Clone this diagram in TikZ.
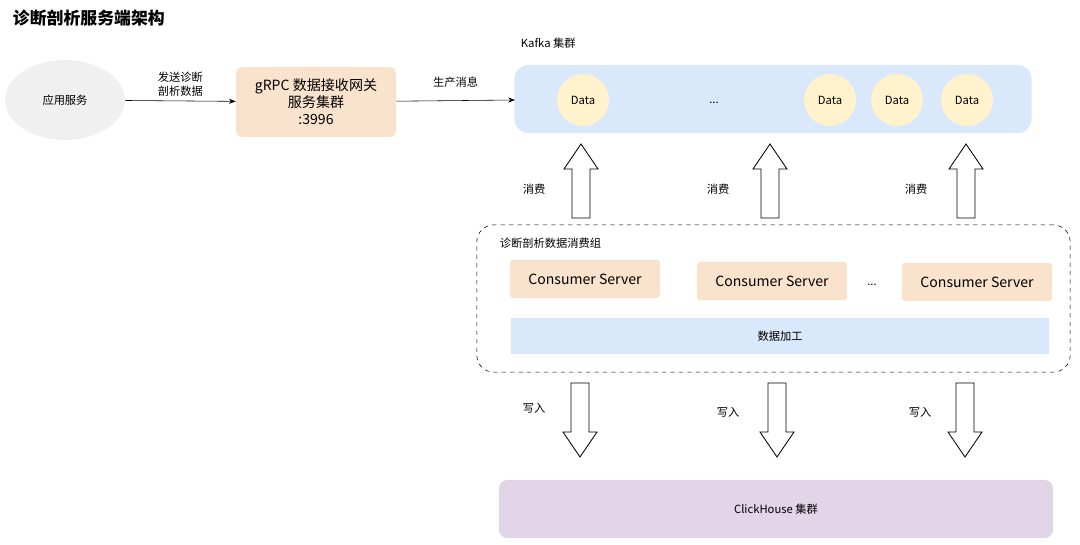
\documentclass[tikz,border=0pt]{standalone}
\usepackage{fontspec}
\setmainfont{Noto Sans CJK SC}
\usetikzlibrary{shapes.geometric, positioning, arrows.meta}
\definecolor{boxorange}{HTML}{FAE3CD}
\definecolor{boxblue}{HTML}{DAE8FC}
\definecolor{boxyellow}{HTML}{FFF2CC}
\definecolor{boxpurple}{HTML}{E1D5E7}
\tikzset{
    lbl/.style={font=\footnotesize, align=center},
    server/.style={rectangle, rounded corners=2pt, fill=boxorange, minimum width=3.75cm, minimum height=0.95cm, font=\normalsize},
    datanode/.style={circle, fill=boxyellow, minimum size=1.3cm, font=\footnotesize},
    fatarrow/.pic={
        % Hollow arrow pointing up, tip at (0,-37)
        \draw[line width=0.6pt, fill=white] (-9,37) -- (-9,-12) -- (-17,-12) -- (0,-37) -- (17,-12) -- (9,-12) -- (9,37) -- cycle;
    },
}
\begin{document}
\begin{tikzpicture}[x=0.025cm, y=-0.025cm, >=Stealth]
    \useasboundingbox (0,0) rectangle (1080,545);

    % Title
    \node[anchor=west, font=\large\bfseries] (title) at (8,18) {诊断剖析服务端架构};

    % Client and gateway
    \node[ellipse, fill=gray!12, minimum width=3cm, minimum height=2cm, font=\footnotesize] (app) at (65,100) {应用服务};
    \node[rectangle, rounded corners=4pt, fill=boxorange, minimum width=4cm, minimum height=1.75cm, align=center, font=\normalsize, inner sep=1pt] (grpc) at (316,102) {gRPC 数据接收网关\\服务集群\\:3996};

    % Kafka
    \node[lbl, anchor=west] (kafkalbl) at (516,43) {Kafka 集群};
    \node[rectangle, rounded corners=10pt, fill=boxblue, minimum width=12.93cm, minimum height=1.7cm] (kafka) at (773,99) {};
    \node[datanode] (d1) at (583,100) {Data};
    \node[lbl] (kdots) at (714,103) {...};
    \node[datanode] (d2) at (830,100) {Data};
    \node[datanode] (d3) at (897,100) {Data};
    \node[datanode] (d4) at (967,100) {Data};

    % Relationships
    \draw[->] (app) -- node[lbl, above] {发送诊断\\剖析数据} (grpc);
    \coordinate (kin) at (515,100);
    \draw[->] (grpc) -- node[lbl, above, yshift=6pt] {生产消息} (kin);

    % Consumer group
    \node[rectangle, draw, dashed, rounded corners=12pt, minimum width=14.83cm, minimum height=3.68cm] (group) at (773.5,298.5) {};
    \node[lbl, anchor=west] (grouplbl) at (495,243) {诊断剖析数据消费组};
    \node[server] (c1) at (585,279) {Consumer Server};
    \node[server] (c2) at (772,281) {Consumer Server};
    \node[lbl] (cdots) at (872,285) {...};
    \node[server] (c3) at (977,282) {Consumer Server};
    \node[rectangle, fill=boxblue, minimum width=13.45cm, minimum height=0.88cm, font=\footnotesize] (proc) at (780,336) {数据加工};

    % Consume arrows
    \foreach \x/\lx [count=\i] in {581/534, 770/718, 966/916} {
        \pic at (\x,181) {fatarrow};
        \node[lbl] (uplbl\i) at (\lx,189) {消费};
    }

    % Write arrows
    \foreach \x/\lx/\ly [count=\i] in {580/534/408, 777/728/412, 965/920/412} {
        \pic[rotate=180] at (\x,420) {fatarrow};
        \node[lbl] (downlbl\i) at (\lx,\ly) {写入};
    }

    % ClickHouse
    \node[rectangle, rounded corners=6pt, fill=boxpurple, minimum width=13.85cm, minimum height=1.45cm, font=\footnotesize] (ch) at (776,509) {ClickHouse 集群};

\end{tikzpicture}
\end{document}
